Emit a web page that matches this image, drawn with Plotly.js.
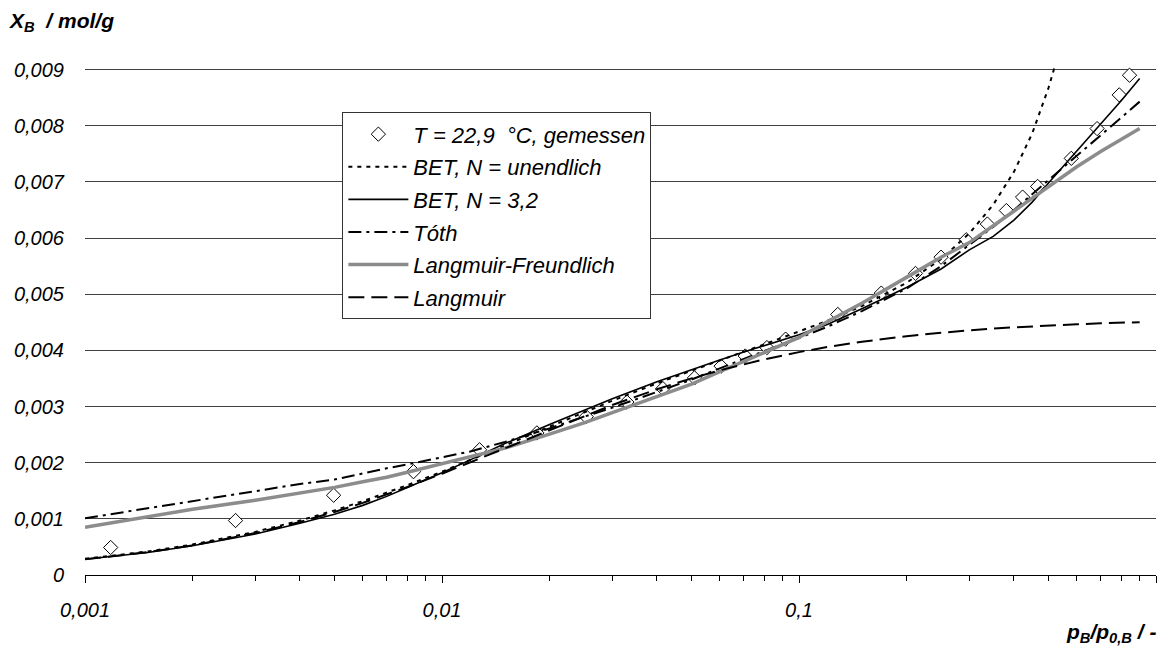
<!DOCTYPE html>
<html>
<head>
<meta charset="utf-8">
<script src="https://cdn.plot.ly/plotly-3.0.1.min.js"></script>
<style>html,body{margin:0;padding:0;background:#fff}#chart{width:1160px;height:653px}</style>
</head>
<body>
<div id="chart"></div>
<script>
// measured points
const xMeas = [0.00118, 0.00264, 0.00497, 0.00832, 0.01274, 0.01844, 0.02535, 0.03294, 0.04155, 0.05097, 0.0605, 0.0707, 0.0813, 0.0917, 0.1284, 0.170, 0.212, 0.250, 0.294, 0.337, 0.381, 0.423, 0.466, 0.579, 0.684, 0.789, 0.843];
const yMeas = [0.00049, 0.00097, 0.00142, 0.00184, 0.00223, 0.00253, 0.00282, 0.00308, 0.00332, 0.00351, 0.00372, 0.00390, 0.00405, 0.00420, 0.00464, 0.00502, 0.00537, 0.00566, 0.00597, 0.00625, 0.00649, 0.00673, 0.00692, 0.00742, 0.00795, 0.00855, 0.00890];

// model curves
const xCurve = [0.001, 0.0015, 0.002, 0.003, 0.004, 0.005, 0.006, 0.007, 0.008, 0.01, 0.012, 0.015, 0.02, 0.025, 0.03, 0.04, 0.05, 0.06, 0.07, 0.08, 0.1, 0.12, 0.15, 0.2, 0.25, 0.3, 0.35, 0.4, 0.45, 0.5, 0.6, 0.7, 0.8, 0.9];
const yBET32 = [0.00028, 0.00040, 0.00052, 0.00073, 0.00092, 0.00108, 0.00124, 0.00140, 0.00156, 0.00182, 0.00205, 0.00234, 0.00268, 0.00294, 0.00314, 0.00344, 0.00366, 0.00383, 0.00397, 0.00409, 0.00428, 0.00446, 0.00474, 0.00512, 0.00545, 0.00579, 0.00603, 0.00632, 0.00664, 0.00698, 0.00755, 0.00805, 0.00845, 0.00884];
const yToth = [0.00101, 0.00119, 0.00132, 0.00150, 0.00162, 0.00170, 0.00181, 0.00190, 0.00197, 0.00210, 0.00220, 0.00237, 0.00261, 0.00282, 0.00298, 0.00326, 0.00348, 0.00368, 0.00385, 0.00399, 0.00422, 0.00442, 0.00470, 0.00510, 0.00550, 0.00588, 0.00620, 0.00650, 0.00678, 0.00703, 0.00745, 0.00782, 0.00815, 0.00843];
const yLF = [0.00085, 0.00103, 0.00117, 0.00133, 0.00146, 0.00156, 0.00166, 0.00174, 0.00183, 0.00198, 0.00210, 0.00226, 0.00251, 0.00271, 0.00289, 0.00318, 0.00340, 0.00362, 0.00380, 0.00396, 0.00423, 0.00451, 0.00484, 0.00530, 0.00566, 0.00592, 0.00622, 0.00647, 0.00671, 0.00692, 0.00727, 0.00754, 0.00776, 0.00795];
const yLangmuir = [0.000279, 0.000407, 0.000527, 0.000747, 0.000945, 0.001123, 0.001285, 0.001432, 0.001567, 0.001804, 0.002007, 0.002261, 0.002589, 0.002835, 0.003027, 0.003308, 0.003502, 0.003645, 0.003755, 0.003841, 0.003969, 0.00406, 0.004154, 0.004253, 0.004314, 0.004357, 0.00439, 0.00441, 0.00443, 0.004443, 0.004466, 0.004481, 0.004494, 0.004503];

const xBETinf = [0.001, 0.0015, 0.002, 0.003, 0.004, 0.005, 0.006, 0.007, 0.008, 0.01, 0.012, 0.015, 0.02, 0.025, 0.03, 0.04, 0.05, 0.06, 0.07, 0.08, 0.1, 0.12, 0.15, 0.2, 0.25, 0.3, 0.35, 0.4, 0.45, 0.5, 0.52, 0.53];
const yBETinf = [0.000288, 0.000419, 0.000542, 0.000768, 0.000969, 0.001151, 0.001315, 0.001464, 0.0016, 0.001841, 0.002046, 0.002305, 0.002641, 0.002898, 0.003103, 0.003413, 0.003643, 0.003825, 0.003976, 0.004108, 0.004332, 0.004526, 0.004789, 0.005203, 0.005626, 0.006083, 0.006594, 0.00718, 0.007863, 0.008676, 0.009047, 0.009245];

const xTickVals = [0.001, 0.01, 0.1, 1];
const xTickText = ['0,001', '0,01', '0,1', '1'];
const xMinorVals = [0.002,0.003,0.004,0.005,0.006,0.007,0.008,0.009,0.02,0.03,0.04,0.05,0.06,0.07,0.08,0.09,0.2,0.3,0.4,0.5,0.6,0.7,0.8,0.9];
const yTickVals = [0, 0.001, 0.002, 0.003, 0.004, 0.005, 0.006, 0.007, 0.008, 0.009];
const yTickText = ['0', '0,001', '0,002', '0,003', '0,004', '0,005', '0,006', '0,007', '0,008', '0,009'];

const FONT = 'Liberation Sans, Arial, sans-serif';

const traces = [
  {x: xMeas, y: yMeas, type: 'scatter', mode: 'markers', name: 'T = 22,9 \u00a0°C, gemessen', legendgroup: 'a',
   marker: {symbol: 'diamond', size: 11, color: 'white', line: {color: 'black', width: 1}}},
  {x: xBETinf, y: yBETinf, type: 'scatter', mode: 'lines', name: 'BET, N = unendlich', legendgroup: 'b',
   line: {color: 'black', width: 2, dash: '4px,5px'}},
  {x: xCurve, y: yBET32, type: 'scatter', mode: 'lines', name: 'BET, N = 3,2', legendgroup: 'c',
   line: {color: 'black', width: 1.6}},
  {x: xCurve, y: yToth, type: 'scatter', mode: 'lines', name: 'Tóth', legendgroup: 'd',
   line: {color: 'black', width: 2, dash: '13px,5px,3px,5px'}},
  {x: xCurve, y: yLF, type: 'scatter', mode: 'lines', name: 'Langmuir-Freundlich', legendgroup: 'e',
   line: {color: '#8c8c8c', width: 3.5}},
  {x: xCurve, y: yLangmuir, type: 'scatter', mode: 'lines', name: 'Langmuir', legendgroup: 'f',
   line: {color: 'black', width: 2, dash: '16px,7px'}}
];

const layout = {
  width: 1160, height: 653,
  margin: {l: 85, r: 4, t: 64, b: 78},
  paper_bgcolor: 'white', plot_bgcolor: 'white',
  font: {family: FONT, size: 20, color: 'black', style: 'italic'},
  showlegend: true,
  legend: {
    x: 0.2403, y: 0.9054, xanchor: 'left', yanchor: 'top',
    bgcolor: 'white', bordercolor: '#333', borderwidth: 1,
    font: {family: FONT, size: 22, color: 'black', style: 'italic'},
    tracegroupgap: 1, traceorder: 'grouped', itemwidth: 60,
    entrywidth: 255, entrywidthmode: 'pixels'
  },
  xaxis: {
    type: 'log', range: [-3, 0],
    tickmode: 'array', tickvals: xTickVals, ticktext: xTickText,
    ticks: 'outside', ticklen: 7, tickcolor: 'black', tickwidth: 1,
    showline: true, linecolor: 'black', linewidth: 1,
    showgrid: false, zeroline: false,
    ticklabelstandoff: 10,
    tickfont: {family: FONT, size: 20, color: 'black', style: 'italic'},
    minor: {tickmode: 'array', tickvals: xMinorVals, ticks: 'outside', ticklen: 5, tickcolor: 'black', showgrid: false}
  },
  yaxis: {
    range: [0, 0.0091],
    tickmode: 'array', tickvals: yTickVals, ticktext: yTickText,
    ticks: '', showline: false, zeroline: false,
    showgrid: true, gridcolor: '#404040', gridwidth: 1,
    ticklabelstandoff: 20,
    tickfont: {family: FONT, size: 20, color: 'black', style: 'italic'}
  },
  annotations: [
    {xref: 'paper', yref: 'paper', x: 0, y: 1, xanchor: 'left', yanchor: 'middle', xshift: -78, yshift: 42,
     showarrow: false, align: 'left',
     text: 'X<sub>B</sub>  / mol/g',
     font: {family: FONT, size: 21, color: 'black', weight: 'bold', style: 'italic'}},
    {xref: 'paper', yref: 'paper', x: 1, y: 0, xanchor: 'right', yanchor: 'middle', xshift: 2, yshift: -58,
     showarrow: false, align: 'right',
     text: 'p<sub>B</sub>/p<sub>0,B</sub> / -',
     font: {family: FONT, size: 21, color: 'black', weight: 'bold', style: 'italic'}}
  ]
};

Plotly.newPlot('chart', traces, layout, {staticPlot: true, displayModeBar: false});
</script>
</body>
</html>
